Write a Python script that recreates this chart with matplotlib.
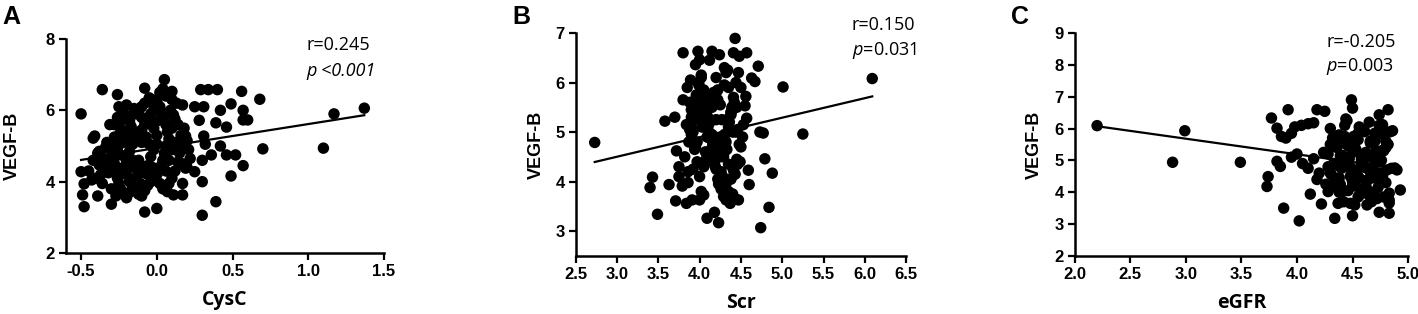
import numpy as np
import matplotlib
matplotlib.use("Agg")
import matplotlib.pyplot as plt

plt.rcParams['mathtext.fontset'] = 'custom'
plt.rcParams['mathtext.rm'] = 'Open Sans'
plt.rcParams['mathtext.it'] = 'Open Sans:italic'

# panel A: CysC vs VEGF-B
cysc = [-0.5, -0.5, -0.48, -0.49, -0.48, -0.43, -0.42, -0.41, -0.39, -0.39, -0.38, -0.36, -0.37, -0.3,
        -0.26, -0.25, -0.32, -0.31, -0.08, 0.05, 0.04, 0.1, -0.08, 0.0, 0.29, 0.34, 0.4, 0.56, 0.68,
        0.3, 0.39, 0.25, 0.31, 0.17, 0.49, 0.42, 0.57, 0.6, 0.57, 0.39, 0.46, 0.28, 0.7, 1.1, 1.17, 1.37,
        0.57, 0.49, 0.52, 0.46, 0.3, 0.3, 0.36, 0.42, 0.31, 0.32, 0.25, 0.17, 0.17, 0.11, 0.07, 0.04,
        0.17, 0.19, 0.17, 0.19, 0.14, 0.11, 0.14,
        -0.28, -0.27, -0.26, -0.25, -0.24, -0.22, -0.2, -0.18, -0.16, -0.14, -0.12, -0.1, -0.08, -0.06,
        -0.04, -0.02, 0.0, 0.02, -0.3, -0.29, -0.27, -0.25, -0.24, -0.23, -0.22, -0.2, -0.18, -0.17,
        -0.15, -0.14, -0.12, -0.1, -0.08, -0.05, -0.03, 0.0, 0.02, 0.03, 0.05, 0.06, 0.07, 0.08, 0.06,
        0.05, 0.04, 0.03, 0.06, 0.08, 0.1, 0.12, 0.1, 0.12, 0.09, 0.13, -0.22, -0.2, -0.18, -0.2, -0.18,
        -0.16, -0.14, -0.12, -0.1, -0.08, -0.06, -0.04, -0.02, -0.12, -0.1, -0.08, -0.06, -0.04, -0.02,
        0.0, 0.0, -0.02, 0.0, -0.15, -0.13, -0.11, -0.16, -0.24, -0.26, -0.28, -0.34, -0.32, -0.35,
        -0.34, -0.22, -0.2, -0.18, -0.1, -0.07, -0.05, -0.06, -0.03, 0.02, 0.04, 0.08, 0.1, 0.12, 0.14,
        0.15, 0.16, 0.18, 0.2, 0.21, 0.22, 0.2, -0.1, -0.15, -0.2, -0.26, -0.28, 0.1, 0.06, 0.02, -0.02,
        -0.33, -0.38, -0.42, -0.45, -0.4, -0.36, -0.3, -0.27]
vegf_a = [5.9, 4.28, 3.94, 3.63, 3.3, 4.05, 5.22, 5.28, 3.6, 4.8, 4.47, 6.58, 4.2, 3.37,
          6.44, 6.1, 5.0, 5.6, 6.62, 6.86, 6.6, 6.53, 3.15, 3.25, 6.58, 6.58, 6.58, 6.53, 6.31,
          3.06, 3.44, 6.1, 6.1, 6.15, 6.18, 6.0, 6.0, 5.73, 5.73, 5.65, 5.53, 5.72, 4.92, 4.94, 5.9, 6.06,
          4.45, 4.16, 4.75, 4.75, 4.6, 4.0, 4.75, 5.0, 5.28, 5.05, 4.28, 3.95, 3.63, 3.63, 3.72, 3.88,
          4.5, 4.38, 5.0, 5.28, 5.6, 5.87, 5.0,
          4.5, 4.3, 4.1, 3.95, 3.8, 3.65, 3.55, 3.7, 3.85, 3.75, 3.65, 3.6, 3.75, 3.9,
          4.0, 4.1, 4.2, 4.35, 4.7, 4.9, 5.1, 5.3, 5.5, 5.75, 5.9, 5.85, 5.7, 5.55,
          5.4, 5.9, 6.0, 6.1, 6.2, 6.35, 6.3, 6.25, 6.1, 5.95, 5.8, 5.6, 5.4, 5.2, 5.0,
          4.8, 4.6, 4.45, 4.3, 4.6, 4.9, 5.1, 5.5, 5.75, 6.0, 6.2, 4.4, 4.2, 4.0, 4.6, 4.85,
          5.05, 5.2, 5.3, 5.45, 5.6, 5.75, 5.9, 6.0, 4.6, 4.4, 4.25, 4.45, 4.7, 4.9,
          5.05, 5.3, 5.5, 5.7, 4.4, 4.15, 3.95, 4.6, 4.75, 4.95, 5.25, 4.45, 4.25, 4.65,
          4.95, 5.1, 5.35, 5.2, 5.1, 5.25, 5.05, 4.2, 4.4, 3.95, 3.8, 3.95, 4.1, 4.3, 4.55,
          4.8, 5.3, 5.5, 5.15, 4.9, 4.65, 4.4, 5.8, 6.05, 6.15, 5.8, 5.6, 6.3, 6.4, 6.5, 6.15,
          5.1, 4.85, 4.6, 4.3, 4.1, 3.95, 3.8, 3.6]

# panel B: Scr vs VEGF-B
scr = [2.73, 3.4, 3.43, 3.49, 3.58, 3.7, 3.63, 3.72, 3.71, 3.8, 3.8, 3.84, 3.79, 3.86, 3.75, 3.75,
       3.98, 4.0, 3.95, 4.15, 4.24, 4.43, 4.41, 4.57, 4.48, 4.71, 4.63, 4.67, 5.01, 6.09, 5.25, 4.73,
       4.77, 4.79, 4.88, 4.84, 4.74, 4.6, 4.59, 4.57, 4.55, 4.56, 4.5, 4.23, 4.09, 4.18, 4.43, 4.32,
       4.37, 4.47, 4.32, 4.41, 4.05, 4.0, 3.91,
       3.85, 3.88, 3.9, 3.92, 3.95, 3.97, 4.0, 4.02, 4.05, 4.07, 4.1, 4.12, 4.15, 4.17, 4.2, 4.22,
       4.25, 4.27, 4.3, 4.33, 4.35, 4.38, 4.4, 4.43, 4.45, 4.48, 3.87, 3.9, 3.93, 3.96, 3.99, 4.02,
       4.05, 4.08, 4.11, 4.14, 4.17, 4.2, 4.23, 4.26, 4.29, 4.32, 4.35, 4.38, 4.41, 4.44, 4.47, 4.5,
       3.82, 3.86, 3.9, 3.94, 3.98, 4.02, 4.06, 4.1, 4.14, 4.18, 4.22, 4.26, 4.3, 4.34, 4.38, 4.42,
       4.46, 3.84, 3.89, 3.94, 3.99, 4.04, 4.09, 4.14, 4.19, 4.24, 4.29, 4.34, 4.39, 4.44, 4.49, 4.52,
       3.9, 3.96, 4.03, 4.1, 4.16, 4.22, 4.28, 4.35, 4.42, 4.0, 4.08, 4.16, 4.24, 4.32, 4.4, 4.12,
       4.2, 4.28, 4.36, 3.92, 4.06, 4.18, 4.3, 4.45, 3.88, 4.25, 4.1, 4.35, 4.2, 4.15, 4.3, 3.97,
       4.38, 4.53, 4.46, 4.12, 4.26, 4.05, 4.33]
vegf_b = [4.79, 3.88, 4.09, 3.34, 5.22, 5.3, 3.94, 4.62, 3.61, 6.6, 5.65, 3.56, 3.91, 3.98, 4.3, 4.1,
          6.63, 6.46, 6.36, 6.63, 6.56, 6.89, 6.6, 6.6, 6.53, 6.33, 6.09, 6.02, 5.91, 6.08, 4.96, 5.0,
          4.98, 4.46, 4.17, 3.48, 3.07, 3.94, 4.23, 5.28, 5.53, 5.72, 4.7, 3.17, 3.26, 3.38, 3.65, 3.63,
          3.56, 3.63, 3.96, 4.23, 3.73, 3.63, 3.63,
          5.9, 5.6, 5.3, 5.0, 4.7, 4.4, 4.1, 3.8, 4.3, 4.6, 4.9, 5.2, 5.5, 5.8, 6.1, 5.85,
          5.55, 5.25, 4.95, 4.65, 4.35, 4.05, 3.75, 4.15, 4.45, 4.75, 4.8, 5.1, 5.4, 5.7, 6.0, 6.1,
          5.75, 5.45, 5.15, 4.85, 4.55, 4.25, 3.95, 4.2, 4.5, 4.8, 5.1, 5.4, 5.7, 6.0, 6.2, 5.9,
          4.5, 4.2, 4.95, 5.25, 5.55, 6.15, 5.35, 5.05, 4.65, 4.35, 4.05, 3.85, 4.6, 5.0, 5.35, 5.6,
          5.05, 5.15, 6.05, 4.65, 5.95, 5.2, 4.9, 4.6, 4.3, 4.0, 3.7, 6.25, 5.5, 5.0, 4.4, 4.9,
          5.45, 5.75, 5.1, 5.3, 4.75, 5.65, 4.7, 5.9, 4.15, 5.35, 4.45, 5.55, 4.85, 6.2, 5.0, 4.55,
          5.8, 4.1, 5.2, 4.25, 5.6, 4.85, 6.3, 5.5, 5.05, 4.5, 5.7, 3.8, 5.25, 4.95, 5.95, 4.8,
          5.4, 5.15, 4.35, 6.45, 4.65, 5.85, 5.25]

# panel C: eGFR vs VEGF-B
egfr = [2.2, 2.99, 2.88, 3.49, 3.73, 3.74, 3.77, 3.82, 3.92, 3.88, 4.02, 3.82, 3.85, 3.86, 3.9,
        3.95, 3.98, 4.04, 4.1, 4.15, 4.18, 4.25, 4.49, 4.5, 4.82, 4.74, 4.86, 4.77, 4.93, 4.83, 4.74,
        4.83, 4.83, 4.88, 4.34, 4.5, 4.22, 4.12, 4.28, 4.37, 4.63, 4.52, 3.95, 4.0, 4.05, 4.1, 4.15,
        4.3, 4.32, 4.36, 4.4, 4.44, 4.48, 4.52, 4.56, 4.6, 4.64, 4.68, 4.72, 4.76, 4.8, 4.84,
        4.3, 4.34, 4.38, 4.42, 4.46, 4.5, 4.54, 4.58, 4.62, 4.66, 4.7, 4.74, 4.78, 4.82, 4.28, 4.33,
        4.38, 4.43, 4.48, 4.53, 4.58, 4.63, 4.68, 4.73, 4.78, 4.83, 4.26, 4.31, 4.36, 4.41, 4.46,
        4.51, 4.56, 4.61, 4.66, 4.71, 4.76, 4.81, 4.35, 4.4, 4.45, 4.5, 4.55, 4.6, 4.65, 4.7, 4.75,
        4.8, 4.32, 4.39, 4.47, 4.54, 4.62, 4.69, 4.77, 4.42, 4.5, 4.58, 4.66, 4.74, 4.45, 4.55,
        4.65, 4.35, 4.6, 4.4, 4.7, 4.5, 4.28, 4.78, 4.2, 4.24, 4.18, 4.57, 4.62, 4.47, 4.38, 4.72,
        4.52, 4.43, 4.67, 4.33, 4.58, 4.48, 4.8, 4.36, 4.64, 4.55, 4.7, 4.44, 4.6, 4.5, 4.39, 4.75,
        4.3, 4.85, 4.9, 4.68, 4.56]
vegf_c = [6.09, 5.93, 4.94, 4.94, 4.18, 4.49, 6.33, 6.01, 6.59, 3.5, 3.1, 4.97, 4.81, 5.75, 5.7,
          5.85, 6.05, 6.1, 6.15, 6.18, 6.59, 6.54, 6.9, 6.64, 6.59, 6.43, 5.93, 6.12, 4.07, 3.34, 3.37,
          3.66, 3.97, 4.76, 3.18, 3.26, 3.63, 3.94, 4.02, 3.65, 3.6, 3.6, 5.1, 5.2, 4.9, 4.75, 5.05,
          6.0, 5.7, 5.4, 5.1, 4.8, 4.5, 4.2, 3.9, 4.1, 4.4, 4.7, 5.0, 5.3, 5.6, 5.9,
          4.6, 4.3, 4.0, 3.7, 4.05, 4.35, 4.65, 4.95, 5.25, 5.55, 5.85, 6.1, 5.8, 5.5, 5.2, 4.9,
          5.8, 6.1, 5.65, 5.35, 5.05, 4.75, 4.45, 4.15, 3.85, 3.75, 4.25, 4.55, 4.85, 5.15, 5.45,
          5.75, 6.05, 5.9, 5.6, 5.3, 5.0, 4.7, 4.4, 4.75, 5.05, 5.35, 5.65, 5.95, 6.2, 4.9, 4.6,
          4.3, 5.45, 5.15, 4.85, 4.55, 4.25, 3.95, 4.5, 5.55, 5.25, 4.95, 4.65, 4.35, 6.25, 3.85,
          3.9, 5.5, 5.0, 4.0, 5.6, 4.2, 4.8, 5.3, 4.6, 5.25, 4.4, 5.95, 4.1, 5.05, 4.45, 3.8,
          4.7, 5.75, 3.7, 4.9, 5.15, 3.65, 5.4, 4.15, 4.05, 5.85, 5.2, 6.3, 4.8, 4.35, 4.25, 4.6,
          5.5, 4.75, 4.7, 5.1, 4.45]

# regression lines (intercept, slope)
fit_a = (4.945, 0.67)
fit_b = (3.32, 0.394)
fit_c = (7.15, -0.49)

panels = [
    dict(x=cysc, y=vegf_a, fit=fit_a, xlabel='CysC', letter='A',
         xlim=(-0.6, 1.5), xticks=[-0.5, 0.0, 0.5, 1.0, 1.5],
         ylim=(2, 8), yticks=[2, 4, 6, 8],
         rect=[0.0465, 0.194, 0.2243, 0.682], ylab_x=-45 / 318,
         r='r=0.245', p='p <0.001', pstyle='italic', txy=(0.755, 0.97, 0.85)),
    dict(x=scr, y=vegf_b, fit=fit_b, xlabel='Scr', letter='B',
         xlim=(2.5, 6.5), xticks=[2.5, 3.0, 3.5, 4.0, 4.5, 5.0, 5.5, 6.0, 6.5],
         ylim=(2.5, 7), yticks=[3, 4, 5, 6, 7],
         rect=[0.406, 0.185, 0.233, 0.71], ylab_x=-31 / 330,
         r='r=0.150', p=r'$\it{p}$=0.031', pstyle='normal', txy=(0.835, 1.035, 0.92)),
    dict(x=egfr, y=vegf_c, fit=fit_c, xlabel='eGFR', letter='C',
         xlim=(2.0, 5.0), xticks=[2.0, 2.5, 3.0, 3.5, 4.0, 4.5, 5.0],
         ylim=(2, 9), yticks=[2, 3, 4, 5, 6, 7, 8, 9],
         rect=[0.758, 0.185, 0.235, 0.71], ylab_x=-32 / 333,
         r='r=-0.205', p=r'$\it{p}$=0.003', pstyle='normal', txy=(0.755, 0.96, 0.85)),
]

fig = plt.figure(figsize=(14.18, 3.14), dpi=100)

for pn in panels:
    ax = fig.add_axes(pn['rect'])
    x = np.array(pn['x'])
    y = np.array(pn['y'])
    ax.scatter(x, y, s=68, color='black', edgecolors='none', zorder=3, clip_on=False)
    b0, b1 = pn['fit']
    xl = np.array([x.min(), x.max()])
    ax.plot(xl, b0 + b1 * xl, color='black', lw=1.6, zorder=2)

    ax.set_xlim(*pn['xlim'])
    ax.set_ylim(*pn['ylim'])
    ax.set_xticks(pn['xticks'])
    ax.set_yticks(pn['yticks'])
    ax.set_xticklabels(['%.1f' % t for t in pn['xticks']])
    ax.set_yticklabels(['%d' % t for t in pn['yticks']])
    for lab in ax.get_xticklabels() + ax.get_yticklabels():
        lab.set_fontfamily('Liberation Sans')
        lab.set_fontweight('bold')
        lab.set_fontsize(12)
    ax.spines['top'].set_visible(False)
    ax.spines['right'].set_visible(False)
    ax.spines['left'].set_linewidth(1.8)
    ax.spines['bottom'].set_linewidth(1.8)
    ax.tick_params(direction='out', length=5, width=1.6, pad=3)

    ax.set_xlabel(pn['xlabel'], fontfamily='Open Sans', fontweight='bold', fontsize=14, labelpad=8)
    ax.set_ylabel('VEGF-B', fontfamily='Liberation Sans', fontweight='bold', fontsize=13)
    ax.yaxis.set_label_coords(pn['ylab_x'], 0.5)

    tx, ry, py = pn['txy']
    ax.text(tx, ry, pn['r'], transform=ax.transAxes, fontfamily='Open Sans', fontsize=13,
            va='center', ha='left')
    ax.text(tx, py, pn['p'], transform=ax.transAxes, fontfamily='Open Sans', fontsize=13,
            fontstyle=pn['pstyle'], va='center', ha='left')

    pos = ax.get_position()
    fig.text(pos.x0 - 0.045, 0.985, pn['letter'], fontfamily='Liberation Sans', fontweight='bold',
             fontsize=18, va='top', ha='left')

fig.savefig('out.png', dpi=100)
